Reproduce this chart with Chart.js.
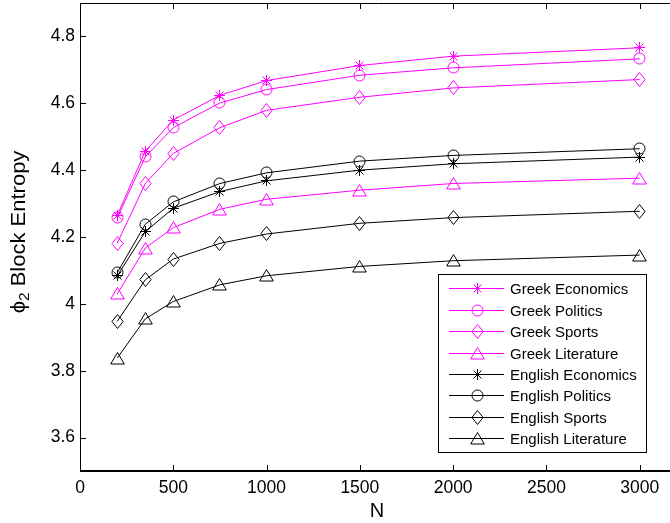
<!DOCTYPE html>
<html><head><meta charset="utf-8">
<script src="https://cdn.jsdelivr.net/npm/chart.js@4.4.1/dist/chart.umd.min.js"></script>
<style>html,body{margin:0;padding:0;background:#fff;overflow:hidden;width:670px;height:523px}canvas{display:block;margin-top:-4px}</style>
</head><body><canvas id="c" width="690" height="527"></canvas>
<script>
const N = [200, 350, 500, 750, 1000, 1500, 2000, 3000];
const greekEconomics    = [4.265, 4.457, 4.550, 4.624, 4.668, 4.713, 4.741, 4.766];
const greekPolitics     = [4.258, 4.440, 4.527, 4.601, 4.641, 4.684, 4.706, 4.733];
const greekSports       = [4.182, 4.360, 4.450, 4.527, 4.579, 4.618, 4.646, 4.671];
const greekLiterature   = [4.030, 4.167, 4.228, 4.283, 4.313, 4.340, 4.360, 4.376];
const englishEconomics  = [4.084, 4.216, 4.286, 4.336, 4.368, 4.400, 4.419, 4.439];
const englishPolitics   = [4.094, 4.238, 4.305, 4.360, 4.392, 4.427, 4.444, 4.464];
const englishSports     = [3.948, 4.072, 4.134, 4.181, 4.209, 4.241, 4.258, 4.277];
const englishLiterature = [3.838, 3.955, 4.007, 4.057, 4.084, 4.112, 4.129, 4.146];
const seriesLabels = ["Greek Economics","Greek Politics","Greek Sports","Greek Literature",
                      "English Economics","English Politics","English Sports","English Literature"];
const xTicks = [0, 500, 1000, 1500, 2000, 2500, 3000];
const yTicks = [3.6, 3.8, 4, 4.2, 4.4, 4.6, 4.8];
const xTitle = "N";
const yTitleSymbol = "ϕ", yTitleSub = "2", yTitleRest = " Block Entropy";

const FONT = '"Liberation Sans", Arial, Helvetica, sans-serif';
const MAG = '#ff00ff', BLK = '#000000';
const OFF = 4; // canvas is shifted up by this many pixels

function makeMarker(type, color){
  const s = 19, c = s/2;
  const cv = document.createElement('canvas'); cv.width = s; cv.height = s;
  const g = cv.getContext('2d');
  g.strokeStyle = color; g.lineWidth = 1; g.beginPath();
  if (type === 'star'){
    g.moveTo(c, c-5.5); g.lineTo(c, c+5.5);
    g.moveTo(c-5.5, c); g.lineTo(c+5.5, c);
    g.moveTo(c-4, c-4); g.lineTo(c+4, c+4);
    g.moveTo(c-4, c+4); g.lineTo(c+4, c-4);
  } else if (type === 'circle'){
    g.arc(c, c, 5.5, 0, Math.PI*2);
  } else if (type === 'diamond'){
    g.moveTo(c, c-7); g.lineTo(c+5.6, c); g.lineTo(c, c+7); g.lineTo(c-5.6, c); g.closePath();
  } else {
    g.moveTo(c, c-6); g.lineTo(c+6.8, c+5.5); g.lineTo(c-6.8, c+5.5); g.closePath();
  }
  g.stroke();
  return cv;
}

const seriesData = [greekEconomics, greekPolitics, greekSports, greekLiterature,
                    englishEconomics, englishPolitics, englishSports, englishLiterature];
const markerTypes = ['star','circle','diamond','triangle','star','circle','diamond','triangle'];
const colors = [MAG, MAG, MAG, MAG, BLK, BLK, BLK, BLK];

const datasets = seriesData.map((arr, i) => {
  const m = makeMarker(markerTypes[i], colors[i]);
  return {
    label: seriesLabels[i],
    data: arr.map((v, j) => ({x: N[j], y: v})),
    borderColor: colors[i], backgroundColor: colors[i],
    borderWidth: 1, pointStyle: m, pointRadius: 6, pointHoverRadius: 6,
    tension: 0, fill: false, clip: false, _marker: m
  };
});

function line(ctx, x1, y1, x2, y2){ ctx.beginPath(); ctx.moveTo(x1,y1); ctx.lineTo(x2,y2); ctx.stroke(); }

const crisp = {
  id: 'crisp',
  beforeDatasetsDraw(chart){ chart.ctx.save(); chart.ctx.imageSmoothingEnabled = false; },
  afterDatasetsDraw(chart){ chart.ctx.restore(); }
};

const decor = {
  id: 'decor',
  afterDraw(chart){
    const {ctx, chartArea: a, scales: {x, y}} = chart;
    ctx.save();
    ctx.strokeStyle = '#000';
    ctx.lineWidth = 1;
    line(ctx, a.left, a.top + 0.5, a.right, a.top + 0.5);
    line(ctx, a.left + 0.5, a.top, a.left + 0.5, a.bottom);
    ctx.lineWidth = 2;
    line(ctx, a.left, a.bottom, a.right, a.bottom);
    ctx.lineWidth = 1;
    xTicks.forEach(v => {
      const px = Math.round(x.getPixelForValue(v)) + 0.5;
      line(ctx, px, a.bottom, px, a.bottom - 6);
      line(ctx, px, a.top, px, a.top + 6);
    });
    yTicks.forEach(v => {
      const py = Math.round(y.getPixelForValue(v)) + 0.5;
      line(ctx, a.left, py, a.left + 6, py);
    });

    // y title with subscript
    ctx.save();
    ctx.translate(19, 232 + OFF);
    ctx.rotate(-Math.PI / 2);
    ctx.scale(1.1, 1);
    ctx.fillStyle = '#000';
    ctx.textBaseline = 'middle';
    const f1 = '20px ' + FONT, f2 = '14px ' + FONT;
    ctx.font = f1; const w1 = ctx.measureText(yTitleSymbol).width, w3 = ctx.measureText(yTitleRest).width;
    ctx.font = f2; const w2 = ctx.measureText(yTitleSub).width;
    let cx = -(w1 + w2 + w3) / 2;
    ctx.textAlign = 'left';
    ctx.font = f1; ctx.fillText(yTitleSymbol, cx, 0); cx += w1;
    ctx.font = f2; ctx.fillText(yTitleSub, cx, 6); cx += w2;
    ctx.font = f1; ctx.fillText(yTitleRest, cx, 0);
    ctx.restore();

    // x title
    ctx.fillStyle = '#000';
    ctx.font = '20px ' + FONT;
    ctx.textAlign = 'center'; ctx.textBaseline = 'middle';
    ctx.fillText(xTitle, 377, 511 + OFF);

    // legend
    const L = 438.5, T = 274.5 + OFF, R = 646.5, B = 452.5 + OFF;
    ctx.fillStyle = '#fff';
    ctx.fillRect(L, T, R - L, B - T);
    ctx.strokeStyle = '#000'; ctx.lineWidth = 1;
    ctx.strokeRect(L, T, R - L, B - T);
    ctx.font = '15px ' + FONT;
    ctx.textAlign = 'left'; ctx.textBaseline = 'middle';
    ctx.imageSmoothingEnabled = false;
    chart.data.datasets.forEach((ds, i) => {
      const ry = Math.round(288.3 + OFF + i * 21.43) + 0.5;
      ctx.strokeStyle = ds.borderColor; ctx.lineWidth = 1;
      line(ctx, 449, ry, 504, ry);
      const m = ds._marker;
      ctx.drawImage(m, Math.round(477 - m.width / 2), Math.round(ry - m.height / 2));
      ctx.fillStyle = '#000';
      ctx.fillText(ds.label, 510, ry + 1);
    });
    ctx.restore();
  }
};

new Chart(document.getElementById('c'), {
  type: 'line',
  data: { datasets },
  options: {
    responsive: false, animation: false, devicePixelRatio: 1,
    layout: { padding: { left: 0, top: 1, right: 13, bottom: 0 } },
    plugins: { legend: { display: false }, tooltip: { enabled: false } },
    scales: {
      x: {
        type: 'linear', min: 0, max: 3200,
        afterBuildTicks: s => { s.ticks = xTicks.map(v => ({value: v})); },
        afterFit: s => { s.height = 52; s.paddingLeft = 0; s.paddingRight = 0; },
        grid: { display: false, drawTicks: false }, border: { display: false },
        ticks: { font: { size: 17.5, family: FONT }, color: '#000', padding: 7, maxRotation: 0, autoSkip: false,
                 callback: v => String(v) }
      },
      y: {
        type: 'linear', min: 3.5, max: 4.9,
        afterBuildTicks: s => { s.ticks = yTicks.map(v => ({value: v})); },
        afterFit: s => { s.width = 80; s.paddingTop = 0; s.paddingBottom = 0; },
        grid: { display: false, drawTicks: false }, border: { display: false },
        ticks: { font: { size: 17.5, family: FONT }, color: '#000', padding: 5, autoSkip: false,
                 callback: v => String(v) }
      }
    }
  },
  plugins: [crisp, decor]
});
</script>
</body></html>
